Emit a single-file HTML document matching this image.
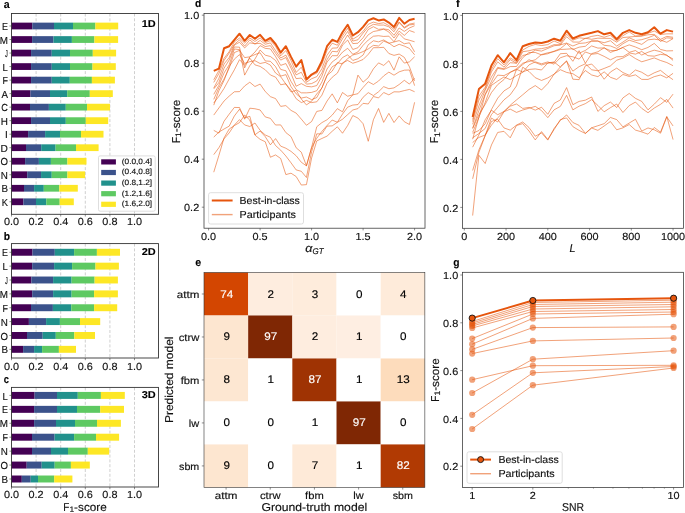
<!DOCTYPE html>
<html><head><meta charset="utf-8"><title>figure</title>
<style>
html,body{margin:0;padding:0;background:#fff;}
body{width:685px;height:513px;overflow:hidden;}
svg{display:block;font-family:"Liberation Sans",sans-serif;text-rendering:geometricPrecision;}
</style></head><body>
<svg width="685" height="513" viewBox="0 0 685 513">
<rect x="0" y="0" width="685" height="513" fill="#fff"/>
<g style="will-change:transform">
<line x1="36.10" y1="13.50" x2="36.10" y2="214.30" stroke="#c4c4c4" stroke-width="0.8" stroke-dasharray="3,1.8"/>
<line x1="60.70" y1="13.50" x2="60.70" y2="214.30" stroke="#c4c4c4" stroke-width="0.8" stroke-dasharray="3,1.8"/>
<line x1="85.30" y1="13.50" x2="85.30" y2="214.30" stroke="#c4c4c4" stroke-width="0.8" stroke-dasharray="3,1.8"/>
<line x1="109.90" y1="13.50" x2="109.90" y2="214.30" stroke="#c4c4c4" stroke-width="0.8" stroke-dasharray="3,1.8"/>
<line x1="134.50" y1="13.50" x2="134.50" y2="214.30" stroke="#c4c4c4" stroke-width="0.8" stroke-dasharray="3,1.8"/>
<rect x="11.50" y="22.63" width="20.80" height="6.76" fill="#440154"/>
<rect x="32.30" y="22.63" width="21.70" height="6.76" fill="#3b528b"/>
<rect x="54.00" y="22.63" width="19.00" height="6.76" fill="#21918c"/>
<rect x="73.00" y="22.63" width="22.40" height="6.76" fill="#5ec962"/>
<rect x="95.40" y="22.63" width="22.80" height="6.76" fill="#fde725"/>
<line x1="9.40" y1="26.01" x2="11.50" y2="26.01" stroke="#444" stroke-width="0.6"/>
<text x="1.90" y="30.11" font-size="10.26" textLength="6.00" lengthAdjust="spacingAndGlyphs" fill="#111" stroke="#111" stroke-width="0.15">E</text>
<rect x="11.50" y="36.15" width="20.60" height="6.76" fill="#440154"/>
<rect x="32.10" y="36.15" width="21.40" height="6.76" fill="#3b528b"/>
<rect x="53.50" y="36.15" width="18.40" height="6.76" fill="#21918c"/>
<rect x="71.90" y="36.15" width="22.50" height="6.76" fill="#5ec962"/>
<rect x="94.40" y="36.15" width="23.70" height="6.76" fill="#fde725"/>
<line x1="9.40" y1="39.53" x2="11.50" y2="39.53" stroke="#444" stroke-width="0.6"/>
<text x="-0.30" y="43.63" font-size="10.26" textLength="8.20" lengthAdjust="spacingAndGlyphs" fill="#111" stroke="#111" stroke-width="0.15">M</text>
<rect x="11.50" y="49.67" width="19.55" height="6.76" fill="#440154"/>
<rect x="31.05" y="49.67" width="20.70" height="6.76" fill="#3b528b"/>
<rect x="51.75" y="49.67" width="18.25" height="6.76" fill="#21918c"/>
<rect x="70.00" y="49.67" width="22.80" height="6.76" fill="#5ec962"/>
<rect x="92.80" y="49.67" width="23.30" height="6.76" fill="#fde725"/>
<line x1="9.40" y1="53.05" x2="11.50" y2="53.05" stroke="#444" stroke-width="0.6"/>
<text x="5.10" y="57.15" font-size="10.26" textLength="2.80" lengthAdjust="spacingAndGlyphs" fill="#111" stroke="#111" stroke-width="0.15">J</text>
<rect x="11.50" y="63.19" width="19.55" height="6.76" fill="#440154"/>
<rect x="31.05" y="63.19" width="20.70" height="6.76" fill="#3b528b"/>
<rect x="51.75" y="63.19" width="18.25" height="6.76" fill="#21918c"/>
<rect x="70.00" y="63.19" width="22.50" height="6.76" fill="#5ec962"/>
<rect x="92.50" y="63.19" width="23.30" height="6.76" fill="#fde725"/>
<line x1="9.40" y1="66.57" x2="11.50" y2="66.57" stroke="#444" stroke-width="0.6"/>
<text x="2.61" y="70.67" font-size="10.26" textLength="5.29" lengthAdjust="spacingAndGlyphs" fill="#111" stroke="#111" stroke-width="0.15">L</text>
<rect x="11.50" y="76.71" width="19.55" height="6.76" fill="#440154"/>
<rect x="31.05" y="76.71" width="20.70" height="6.76" fill="#3b528b"/>
<rect x="51.75" y="76.71" width="18.05" height="6.76" fill="#21918c"/>
<rect x="69.80" y="76.71" width="22.10" height="6.76" fill="#5ec962"/>
<rect x="91.90" y="76.71" width="23.00" height="6.76" fill="#fde725"/>
<line x1="9.40" y1="80.10" x2="11.50" y2="80.10" stroke="#444" stroke-width="0.6"/>
<text x="2.44" y="84.20" font-size="10.26" textLength="5.46" lengthAdjust="spacingAndGlyphs" fill="#111" stroke="#111" stroke-width="0.15">F</text>
<rect x="11.50" y="90.24" width="19.00" height="6.76" fill="#440154"/>
<rect x="30.50" y="90.24" width="19.50" height="6.76" fill="#3b528b"/>
<rect x="50.00" y="90.24" width="17.20" height="6.76" fill="#21918c"/>
<rect x="67.20" y="90.24" width="22.60" height="6.76" fill="#5ec962"/>
<rect x="89.80" y="90.24" width="23.00" height="6.76" fill="#fde725"/>
<line x1="9.40" y1="93.62" x2="11.50" y2="93.62" stroke="#444" stroke-width="0.6"/>
<text x="1.40" y="97.72" font-size="10.26" textLength="6.50" lengthAdjust="spacingAndGlyphs" fill="#111" stroke="#111" stroke-width="0.15">A</text>
<rect x="11.50" y="103.76" width="18.50" height="6.76" fill="#440154"/>
<rect x="30.00" y="103.76" width="18.90" height="6.76" fill="#3b528b"/>
<rect x="48.90" y="103.76" width="16.90" height="6.76" fill="#21918c"/>
<rect x="65.80" y="103.76" width="21.20" height="6.76" fill="#5ec962"/>
<rect x="87.00" y="103.76" width="23.00" height="6.76" fill="#fde725"/>
<line x1="9.40" y1="107.14" x2="11.50" y2="107.14" stroke="#444" stroke-width="0.6"/>
<text x="1.27" y="111.24" font-size="10.26" textLength="6.63" lengthAdjust="spacingAndGlyphs" fill="#111" stroke="#111" stroke-width="0.15">C</text>
<rect x="11.50" y="117.28" width="19.55" height="6.76" fill="#440154"/>
<rect x="31.05" y="117.28" width="18.95" height="6.76" fill="#3b528b"/>
<rect x="50.00" y="117.28" width="15.80" height="6.76" fill="#21918c"/>
<rect x="65.80" y="117.28" width="20.00" height="6.76" fill="#5ec962"/>
<rect x="85.80" y="117.28" width="22.40" height="6.76" fill="#fde725"/>
<line x1="9.40" y1="120.66" x2="11.50" y2="120.66" stroke="#444" stroke-width="0.6"/>
<text x="0.76" y="124.76" font-size="10.26" textLength="7.14" lengthAdjust="spacingAndGlyphs" fill="#111" stroke="#111" stroke-width="0.15">H</text>
<rect x="11.50" y="130.80" width="16.60" height="6.76" fill="#440154"/>
<rect x="28.10" y="130.80" width="17.00" height="6.76" fill="#3b528b"/>
<rect x="45.10" y="130.80" width="14.90" height="6.76" fill="#21918c"/>
<rect x="60.00" y="130.80" width="21.05" height="6.76" fill="#5ec962"/>
<rect x="81.05" y="130.80" width="22.45" height="6.76" fill="#fde725"/>
<line x1="9.40" y1="134.18" x2="11.50" y2="134.18" stroke="#444" stroke-width="0.6"/>
<text x="5.10" y="138.28" font-size="10.26" textLength="2.80" lengthAdjust="spacingAndGlyphs" fill="#111" stroke="#111" stroke-width="0.15">I</text>
<rect x="11.50" y="144.32" width="14.50" height="6.76" fill="#440154"/>
<rect x="26.00" y="144.32" width="15.20" height="6.76" fill="#3b528b"/>
<rect x="41.20" y="144.32" width="14.40" height="6.76" fill="#21918c"/>
<rect x="55.60" y="144.32" width="20.40" height="6.76" fill="#5ec962"/>
<rect x="76.00" y="144.32" width="22.60" height="6.76" fill="#fde725"/>
<line x1="9.40" y1="147.70" x2="11.50" y2="147.70" stroke="#444" stroke-width="0.6"/>
<text x="0.58" y="151.80" font-size="10.26" textLength="7.32" lengthAdjust="spacingAndGlyphs" fill="#111" stroke="#111" stroke-width="0.15">D</text>
<rect x="11.50" y="157.85" width="13.60" height="6.76" fill="#440154"/>
<rect x="25.10" y="157.85" width="13.80" height="6.76" fill="#3b528b"/>
<rect x="38.90" y="157.85" width="12.00" height="6.76" fill="#21918c"/>
<rect x="50.90" y="157.85" width="16.50" height="6.76" fill="#5ec962"/>
<rect x="67.40" y="157.85" width="19.10" height="6.76" fill="#fde725"/>
<line x1="9.40" y1="161.23" x2="11.50" y2="161.23" stroke="#444" stroke-width="0.6"/>
<text x="0.42" y="165.33" font-size="10.26" textLength="7.48" lengthAdjust="spacingAndGlyphs" fill="#111" stroke="#111" stroke-width="0.15">O</text>
<rect x="11.50" y="171.37" width="15.70" height="6.76" fill="#440154"/>
<rect x="27.20" y="171.37" width="13.85" height="6.76" fill="#3b528b"/>
<rect x="41.05" y="171.37" width="10.70" height="6.76" fill="#21918c"/>
<rect x="51.75" y="171.37" width="15.65" height="6.76" fill="#5ec962"/>
<rect x="67.40" y="171.37" width="17.70" height="6.76" fill="#fde725"/>
<line x1="9.40" y1="174.75" x2="11.50" y2="174.75" stroke="#444" stroke-width="0.6"/>
<text x="0.79" y="178.85" font-size="10.26" textLength="7.11" lengthAdjust="spacingAndGlyphs" fill="#111" stroke="#111" stroke-width="0.15">N</text>
<rect x="11.50" y="184.89" width="12.50" height="6.76" fill="#440154"/>
<rect x="24.00" y="184.89" width="10.10" height="6.76" fill="#3b528b"/>
<rect x="34.10" y="184.89" width="9.70" height="6.76" fill="#21918c"/>
<rect x="43.80" y="184.89" width="15.50" height="6.76" fill="#5ec962"/>
<rect x="59.30" y="184.89" width="18.50" height="6.76" fill="#fde725"/>
<line x1="9.40" y1="188.27" x2="11.50" y2="188.27" stroke="#444" stroke-width="0.6"/>
<text x="1.38" y="192.37" font-size="10.26" textLength="6.52" lengthAdjust="spacingAndGlyphs" fill="#111" stroke="#111" stroke-width="0.15">B</text>
<rect x="11.50" y="198.41" width="11.90" height="6.76" fill="#440154"/>
<rect x="23.40" y="198.41" width="12.60" height="6.76" fill="#3b528b"/>
<rect x="36.00" y="198.41" width="10.30" height="6.76" fill="#21918c"/>
<rect x="46.30" y="198.41" width="13.40" height="6.76" fill="#5ec962"/>
<rect x="59.70" y="198.41" width="14.10" height="6.76" fill="#fde725"/>
<line x1="9.40" y1="201.79" x2="11.50" y2="201.79" stroke="#444" stroke-width="0.6"/>
<text x="1.67" y="205.89" font-size="10.26" textLength="6.23" lengthAdjust="spacingAndGlyphs" fill="#111" stroke="#111" stroke-width="0.15">K</text>
<line x1="11.50" y1="214.30" x2="11.50" y2="216.50" stroke="#444" stroke-width="0.6"/>
<text x="3.95" y="225.00" font-size="10.26" textLength="15.11" lengthAdjust="spacingAndGlyphs" fill="#111" stroke="#111" stroke-width="0.15">0.0</text>
<line x1="36.10" y1="214.30" x2="36.10" y2="216.50" stroke="#444" stroke-width="0.6"/>
<text x="28.55" y="225.00" font-size="10.26" textLength="15.11" lengthAdjust="spacingAndGlyphs" fill="#111" stroke="#111" stroke-width="0.15">0.2</text>
<line x1="60.70" y1="214.30" x2="60.70" y2="216.50" stroke="#444" stroke-width="0.6"/>
<text x="53.15" y="225.00" font-size="10.26" textLength="15.11" lengthAdjust="spacingAndGlyphs" fill="#111" stroke="#111" stroke-width="0.15">0.4</text>
<line x1="85.30" y1="214.30" x2="85.30" y2="216.50" stroke="#444" stroke-width="0.6"/>
<text x="77.75" y="225.00" font-size="10.26" textLength="15.11" lengthAdjust="spacingAndGlyphs" fill="#111" stroke="#111" stroke-width="0.15">0.6</text>
<line x1="109.90" y1="214.30" x2="109.90" y2="216.50" stroke="#444" stroke-width="0.6"/>
<text x="102.35" y="225.00" font-size="10.26" textLength="15.11" lengthAdjust="spacingAndGlyphs" fill="#111" stroke="#111" stroke-width="0.15">0.8</text>
<line x1="134.50" y1="214.30" x2="134.50" y2="216.50" stroke="#444" stroke-width="0.6"/>
<text x="126.95" y="225.00" font-size="10.26" textLength="15.11" lengthAdjust="spacingAndGlyphs" fill="#111" stroke="#111" stroke-width="0.15">1.0</text>
<rect x="11.50" y="13.50" width="147.00" height="200.80" fill="none" stroke="#333" stroke-width="0.9"/>
<text x="141.76" y="26.80" font-size="9.94" textLength="14.04" lengthAdjust="spacingAndGlyphs" fill="#000" stroke="#000" stroke-width="0.1" font-weight="bold">1D</text>
<text x="3.70" y="7.80" font-size="11.02" textLength="5.92" lengthAdjust="spacingAndGlyphs" fill="#000" stroke="#000" stroke-width="0.1" font-weight="bold">a</text>
<rect x="98.5" y="155.9" width="56.7" height="55.3" rx="1.5" fill="#fff" fill-opacity="0.9" stroke="#d6d6d6" stroke-width="0.8"/>
<rect x="101.20" y="159.30" width="14.70" height="5.20" fill="#440154"/>
<text x="121.80" y="163.80" font-size="7.67" textLength="30.30" lengthAdjust="spacingAndGlyphs" fill="#111" stroke="#111" stroke-width="0.15">(0.0,0.4]</text>
<rect x="101.20" y="169.90" width="14.70" height="5.20" fill="#3b528b"/>
<text x="121.80" y="174.40" font-size="7.67" textLength="30.30" lengthAdjust="spacingAndGlyphs" fill="#111" stroke="#111" stroke-width="0.15">(0.4,0.8]</text>
<rect x="101.20" y="180.50" width="14.70" height="5.20" fill="#21918c"/>
<text x="121.80" y="185.00" font-size="7.67" textLength="30.30" lengthAdjust="spacingAndGlyphs" fill="#111" stroke="#111" stroke-width="0.15">(0.8,1.2]</text>
<rect x="101.20" y="191.10" width="14.70" height="5.20" fill="#5ec962"/>
<text x="121.80" y="195.60" font-size="7.67" textLength="30.30" lengthAdjust="spacingAndGlyphs" fill="#111" stroke="#111" stroke-width="0.15">(1.2,1.6]</text>
<rect x="101.20" y="201.70" width="14.70" height="5.20" fill="#fde725"/>
<text x="121.80" y="206.20" font-size="7.67" textLength="30.30" lengthAdjust="spacingAndGlyphs" fill="#111" stroke="#111" stroke-width="0.15">(1.6,2.0]</text>
<line x1="36.10" y1="243.60" x2="36.10" y2="358.00" stroke="#c4c4c4" stroke-width="0.8" stroke-dasharray="3,1.8"/>
<line x1="60.70" y1="243.60" x2="60.70" y2="358.00" stroke="#c4c4c4" stroke-width="0.8" stroke-dasharray="3,1.8"/>
<line x1="85.30" y1="243.60" x2="85.30" y2="358.00" stroke="#c4c4c4" stroke-width="0.8" stroke-dasharray="3,1.8"/>
<line x1="109.90" y1="243.60" x2="109.90" y2="358.00" stroke="#c4c4c4" stroke-width="0.8" stroke-dasharray="3,1.8"/>
<line x1="134.50" y1="243.60" x2="134.50" y2="358.00" stroke="#c4c4c4" stroke-width="0.8" stroke-dasharray="3,1.8"/>
<rect x="11.50" y="248.80" width="21.00" height="6.93" fill="#440154"/>
<rect x="32.50" y="248.80" width="22.30" height="6.93" fill="#3b528b"/>
<rect x="54.80" y="248.80" width="19.30" height="6.93" fill="#21918c"/>
<rect x="74.10" y="248.80" width="22.80" height="6.93" fill="#5ec962"/>
<rect x="96.90" y="248.80" width="23.10" height="6.93" fill="#fde725"/>
<line x1="9.40" y1="252.27" x2="11.50" y2="252.27" stroke="#444" stroke-width="0.6"/>
<text x="1.90" y="256.37" font-size="10.26" textLength="6.00" lengthAdjust="spacingAndGlyphs" fill="#111" stroke="#111" stroke-width="0.15">E</text>
<rect x="11.50" y="262.67" width="20.70" height="6.93" fill="#440154"/>
<rect x="32.20" y="262.67" width="21.90" height="6.93" fill="#3b528b"/>
<rect x="54.10" y="262.67" width="18.00" height="6.93" fill="#21918c"/>
<rect x="72.10" y="262.67" width="23.40" height="6.93" fill="#5ec962"/>
<rect x="95.50" y="262.67" width="23.40" height="6.93" fill="#fde725"/>
<line x1="9.40" y1="266.13" x2="11.50" y2="266.13" stroke="#444" stroke-width="0.6"/>
<text x="2.61" y="270.23" font-size="10.26" textLength="5.29" lengthAdjust="spacingAndGlyphs" fill="#111" stroke="#111" stroke-width="0.15">L</text>
<rect x="11.50" y="276.53" width="19.90" height="6.93" fill="#440154"/>
<rect x="31.40" y="276.53" width="21.70" height="6.93" fill="#3b528b"/>
<rect x="53.10" y="276.53" width="18.50" height="6.93" fill="#21918c"/>
<rect x="71.60" y="276.53" width="23.00" height="6.93" fill="#5ec962"/>
<rect x="94.60" y="276.53" width="23.30" height="6.93" fill="#fde725"/>
<line x1="9.40" y1="280.00" x2="11.50" y2="280.00" stroke="#444" stroke-width="0.6"/>
<text x="5.10" y="284.10" font-size="10.26" textLength="2.80" lengthAdjust="spacingAndGlyphs" fill="#111" stroke="#111" stroke-width="0.15">J</text>
<rect x="11.50" y="290.40" width="20.70" height="6.93" fill="#440154"/>
<rect x="32.20" y="290.40" width="20.90" height="6.93" fill="#3b528b"/>
<rect x="53.10" y="290.40" width="18.50" height="6.93" fill="#21918c"/>
<rect x="71.60" y="290.40" width="22.50" height="6.93" fill="#5ec962"/>
<rect x="94.10" y="290.40" width="23.80" height="6.93" fill="#fde725"/>
<line x1="9.40" y1="293.87" x2="11.50" y2="293.87" stroke="#444" stroke-width="0.6"/>
<text x="-0.30" y="297.97" font-size="10.26" textLength="8.20" lengthAdjust="spacingAndGlyphs" fill="#111" stroke="#111" stroke-width="0.15">M</text>
<rect x="11.50" y="304.27" width="19.50" height="6.93" fill="#440154"/>
<rect x="31.00" y="304.27" width="21.90" height="6.93" fill="#3b528b"/>
<rect x="52.90" y="304.27" width="18.40" height="6.93" fill="#21918c"/>
<rect x="71.30" y="304.27" width="22.80" height="6.93" fill="#5ec962"/>
<rect x="94.10" y="304.27" width="23.10" height="6.93" fill="#fde725"/>
<line x1="9.40" y1="307.73" x2="11.50" y2="307.73" stroke="#444" stroke-width="0.6"/>
<text x="2.44" y="311.83" font-size="10.26" textLength="5.46" lengthAdjust="spacingAndGlyphs" fill="#111" stroke="#111" stroke-width="0.15">F</text>
<rect x="11.50" y="318.13" width="17.40" height="6.93" fill="#440154"/>
<rect x="28.90" y="318.13" width="17.20" height="6.93" fill="#3b528b"/>
<rect x="46.10" y="318.13" width="13.80" height="6.93" fill="#21918c"/>
<rect x="59.90" y="318.13" width="20.10" height="6.93" fill="#5ec962"/>
<rect x="80.00" y="318.13" width="20.20" height="6.93" fill="#fde725"/>
<line x1="9.40" y1="321.60" x2="11.50" y2="321.60" stroke="#444" stroke-width="0.6"/>
<text x="0.79" y="325.70" font-size="10.26" textLength="7.11" lengthAdjust="spacingAndGlyphs" fill="#111" stroke="#111" stroke-width="0.15">N</text>
<rect x="11.50" y="332.00" width="15.50" height="6.93" fill="#440154"/>
<rect x="27.00" y="332.00" width="15.70" height="6.93" fill="#3b528b"/>
<rect x="42.70" y="332.00" width="13.10" height="6.93" fill="#21918c"/>
<rect x="55.80" y="332.00" width="18.50" height="6.93" fill="#5ec962"/>
<rect x="74.30" y="332.00" width="20.70" height="6.93" fill="#fde725"/>
<line x1="9.40" y1="335.47" x2="11.50" y2="335.47" stroke="#444" stroke-width="0.6"/>
<text x="0.42" y="339.57" font-size="10.26" textLength="7.48" lengthAdjust="spacingAndGlyphs" fill="#111" stroke="#111" stroke-width="0.15">O</text>
<rect x="11.50" y="345.87" width="11.60" height="6.93" fill="#440154"/>
<rect x="23.10" y="345.87" width="11.00" height="6.93" fill="#3b528b"/>
<rect x="34.10" y="345.87" width="8.00" height="6.93" fill="#21918c"/>
<rect x="42.10" y="345.87" width="16.80" height="6.93" fill="#5ec962"/>
<rect x="58.90" y="345.87" width="17.10" height="6.93" fill="#fde725"/>
<line x1="9.40" y1="349.33" x2="11.50" y2="349.33" stroke="#444" stroke-width="0.6"/>
<text x="1.38" y="353.43" font-size="10.26" textLength="6.52" lengthAdjust="spacingAndGlyphs" fill="#111" stroke="#111" stroke-width="0.15">B</text>
<line x1="11.50" y1="358.00" x2="11.50" y2="360.20" stroke="#444" stroke-width="0.6"/>
<text x="3.95" y="369.60" font-size="10.26" textLength="15.11" lengthAdjust="spacingAndGlyphs" fill="#111" stroke="#111" stroke-width="0.15">0.0</text>
<line x1="36.10" y1="358.00" x2="36.10" y2="360.20" stroke="#444" stroke-width="0.6"/>
<text x="28.55" y="369.60" font-size="10.26" textLength="15.11" lengthAdjust="spacingAndGlyphs" fill="#111" stroke="#111" stroke-width="0.15">0.2</text>
<line x1="60.70" y1="358.00" x2="60.70" y2="360.20" stroke="#444" stroke-width="0.6"/>
<text x="53.15" y="369.60" font-size="10.26" textLength="15.11" lengthAdjust="spacingAndGlyphs" fill="#111" stroke="#111" stroke-width="0.15">0.4</text>
<line x1="85.30" y1="358.00" x2="85.30" y2="360.20" stroke="#444" stroke-width="0.6"/>
<text x="77.75" y="369.60" font-size="10.26" textLength="15.11" lengthAdjust="spacingAndGlyphs" fill="#111" stroke="#111" stroke-width="0.15">0.6</text>
<line x1="109.90" y1="358.00" x2="109.90" y2="360.20" stroke="#444" stroke-width="0.6"/>
<text x="102.35" y="369.60" font-size="10.26" textLength="15.11" lengthAdjust="spacingAndGlyphs" fill="#111" stroke="#111" stroke-width="0.15">0.8</text>
<line x1="134.50" y1="358.00" x2="134.50" y2="360.20" stroke="#444" stroke-width="0.6"/>
<text x="126.95" y="369.60" font-size="10.26" textLength="15.11" lengthAdjust="spacingAndGlyphs" fill="#111" stroke="#111" stroke-width="0.15">1.0</text>
<rect x="11.50" y="243.60" width="147.00" height="114.40" fill="none" stroke="#333" stroke-width="0.9"/>
<text x="141.76" y="254.50" font-size="9.94" textLength="14.04" lengthAdjust="spacingAndGlyphs" fill="#000" stroke="#000" stroke-width="0.1" font-weight="bold">2D</text>
<text x="3.70" y="239.60" font-size="11.02" textLength="6.28" lengthAdjust="spacingAndGlyphs" fill="#000" stroke="#000" stroke-width="0.1" font-weight="bold">b</text>
<line x1="36.10" y1="387.40" x2="36.10" y2="487.00" stroke="#c4c4c4" stroke-width="0.8" stroke-dasharray="3,1.8"/>
<line x1="60.70" y1="387.40" x2="60.70" y2="487.00" stroke="#c4c4c4" stroke-width="0.8" stroke-dasharray="3,1.8"/>
<line x1="85.30" y1="387.40" x2="85.30" y2="487.00" stroke="#c4c4c4" stroke-width="0.8" stroke-dasharray="3,1.8"/>
<line x1="109.90" y1="387.40" x2="109.90" y2="487.00" stroke="#c4c4c4" stroke-width="0.8" stroke-dasharray="3,1.8"/>
<line x1="134.50" y1="387.40" x2="134.50" y2="487.00" stroke="#c4c4c4" stroke-width="0.8" stroke-dasharray="3,1.8"/>
<rect x="11.50" y="391.93" width="23.10" height="6.97" fill="#440154"/>
<rect x="34.60" y="391.93" width="22.40" height="6.97" fill="#3b528b"/>
<rect x="57.00" y="391.93" width="20.80" height="6.97" fill="#21918c"/>
<rect x="77.80" y="391.93" width="23.10" height="6.97" fill="#5ec962"/>
<rect x="100.90" y="391.93" width="23.90" height="6.97" fill="#fde725"/>
<line x1="9.40" y1="395.41" x2="11.50" y2="395.41" stroke="#444" stroke-width="0.6"/>
<text x="2.61" y="399.51" font-size="10.26" textLength="5.29" lengthAdjust="spacingAndGlyphs" fill="#111" stroke="#111" stroke-width="0.15">L</text>
<rect x="11.50" y="405.86" width="22.60" height="6.97" fill="#440154"/>
<rect x="34.10" y="405.86" width="22.90" height="6.97" fill="#3b528b"/>
<rect x="57.00" y="405.86" width="20.00" height="6.97" fill="#21918c"/>
<rect x="77.00" y="405.86" width="23.20" height="6.97" fill="#5ec962"/>
<rect x="100.20" y="405.86" width="23.80" height="6.97" fill="#fde725"/>
<line x1="9.40" y1="409.34" x2="11.50" y2="409.34" stroke="#444" stroke-width="0.6"/>
<text x="1.90" y="413.44" font-size="10.26" textLength="6.00" lengthAdjust="spacingAndGlyphs" fill="#111" stroke="#111" stroke-width="0.15">E</text>
<rect x="11.50" y="419.79" width="22.60" height="6.97" fill="#440154"/>
<rect x="34.10" y="419.79" width="21.90" height="6.97" fill="#3b528b"/>
<rect x="56.00" y="419.79" width="19.00" height="6.97" fill="#21918c"/>
<rect x="75.00" y="419.79" width="22.00" height="6.97" fill="#5ec962"/>
<rect x="97.00" y="419.79" width="23.90" height="6.97" fill="#fde725"/>
<line x1="9.40" y1="423.27" x2="11.50" y2="423.27" stroke="#444" stroke-width="0.6"/>
<text x="-0.30" y="427.37" font-size="10.26" textLength="8.20" lengthAdjust="spacingAndGlyphs" fill="#111" stroke="#111" stroke-width="0.15">M</text>
<rect x="11.50" y="433.72" width="20.50" height="6.97" fill="#440154"/>
<rect x="32.00" y="433.72" width="22.60" height="6.97" fill="#3b528b"/>
<rect x="54.60" y="433.72" width="19.50" height="6.97" fill="#21918c"/>
<rect x="74.10" y="433.72" width="21.90" height="6.97" fill="#5ec962"/>
<rect x="96.00" y="433.72" width="23.10" height="6.97" fill="#fde725"/>
<line x1="9.40" y1="437.20" x2="11.50" y2="437.20" stroke="#444" stroke-width="0.6"/>
<text x="2.44" y="441.30" font-size="10.26" textLength="5.46" lengthAdjust="spacingAndGlyphs" fill="#111" stroke="#111" stroke-width="0.15">F</text>
<rect x="11.50" y="447.65" width="20.50" height="6.97" fill="#440154"/>
<rect x="32.00" y="447.65" width="19.00" height="6.97" fill="#3b528b"/>
<rect x="51.00" y="447.65" width="17.00" height="6.97" fill="#21918c"/>
<rect x="68.00" y="447.65" width="19.80" height="6.97" fill="#5ec962"/>
<rect x="87.80" y="447.65" width="21.40" height="6.97" fill="#fde725"/>
<line x1="9.40" y1="451.13" x2="11.50" y2="451.13" stroke="#444" stroke-width="0.6"/>
<text x="0.79" y="455.23" font-size="10.26" textLength="7.11" lengthAdjust="spacingAndGlyphs" fill="#111" stroke="#111" stroke-width="0.15">N</text>
<rect x="11.50" y="461.58" width="15.20" height="6.97" fill="#440154"/>
<rect x="26.70" y="461.58" width="15.00" height="6.97" fill="#3b528b"/>
<rect x="41.70" y="461.58" width="13.00" height="6.97" fill="#21918c"/>
<rect x="54.70" y="461.58" width="16.20" height="6.97" fill="#5ec962"/>
<rect x="70.90" y="461.58" width="18.90" height="6.97" fill="#fde725"/>
<line x1="9.40" y1="465.06" x2="11.50" y2="465.06" stroke="#444" stroke-width="0.6"/>
<text x="0.42" y="469.16" font-size="10.26" textLength="7.48" lengthAdjust="spacingAndGlyphs" fill="#111" stroke="#111" stroke-width="0.15">O</text>
<rect x="11.50" y="475.51" width="10.30" height="6.97" fill="#440154"/>
<rect x="21.80" y="475.51" width="8.90" height="6.97" fill="#3b528b"/>
<rect x="30.70" y="475.51" width="7.30" height="6.97" fill="#21918c"/>
<rect x="38.00" y="475.51" width="16.20" height="6.97" fill="#5ec962"/>
<rect x="54.20" y="475.51" width="18.20" height="6.97" fill="#fde725"/>
<line x1="9.40" y1="478.99" x2="11.50" y2="478.99" stroke="#444" stroke-width="0.6"/>
<text x="1.38" y="483.09" font-size="10.26" textLength="6.52" lengthAdjust="spacingAndGlyphs" fill="#111" stroke="#111" stroke-width="0.15">B</text>
<line x1="11.50" y1="487.00" x2="11.50" y2="489.20" stroke="#444" stroke-width="0.6"/>
<text x="3.95" y="498.30" font-size="10.26" textLength="15.11" lengthAdjust="spacingAndGlyphs" fill="#111" stroke="#111" stroke-width="0.15">0.0</text>
<line x1="36.10" y1="487.00" x2="36.10" y2="489.20" stroke="#444" stroke-width="0.6"/>
<text x="28.55" y="498.30" font-size="10.26" textLength="15.11" lengthAdjust="spacingAndGlyphs" fill="#111" stroke="#111" stroke-width="0.15">0.2</text>
<line x1="60.70" y1="487.00" x2="60.70" y2="489.20" stroke="#444" stroke-width="0.6"/>
<text x="53.15" y="498.30" font-size="10.26" textLength="15.11" lengthAdjust="spacingAndGlyphs" fill="#111" stroke="#111" stroke-width="0.15">0.4</text>
<line x1="85.30" y1="487.00" x2="85.30" y2="489.20" stroke="#444" stroke-width="0.6"/>
<text x="77.75" y="498.30" font-size="10.26" textLength="15.11" lengthAdjust="spacingAndGlyphs" fill="#111" stroke="#111" stroke-width="0.15">0.6</text>
<line x1="109.90" y1="487.00" x2="109.90" y2="489.20" stroke="#444" stroke-width="0.6"/>
<text x="102.35" y="498.30" font-size="10.26" textLength="15.11" lengthAdjust="spacingAndGlyphs" fill="#111" stroke="#111" stroke-width="0.15">0.8</text>
<line x1="134.50" y1="487.00" x2="134.50" y2="489.20" stroke="#444" stroke-width="0.6"/>
<text x="126.95" y="498.30" font-size="10.26" textLength="15.11" lengthAdjust="spacingAndGlyphs" fill="#111" stroke="#111" stroke-width="0.15">1.0</text>
<rect x="11.50" y="387.40" width="147.00" height="99.60" fill="none" stroke="#333" stroke-width="0.9"/>
<text x="141.76" y="397.60" font-size="9.94" textLength="14.04" lengthAdjust="spacingAndGlyphs" fill="#000" stroke="#000" stroke-width="0.1" font-weight="bold">3D</text>
<text x="3.70" y="383.40" font-size="11.02" textLength="5.20" lengthAdjust="spacingAndGlyphs" fill="#000" stroke="#000" stroke-width="0.1" font-weight="bold">c</text>
<text x="63.32" y="510.80" font-size="11.45" textLength="6.10" lengthAdjust="spacingAndGlyphs" fill="#111" stroke="#111" stroke-width="0.15">F</text>
<text x="69.42" y="512.40" font-size="8.01" textLength="4.72" lengthAdjust="spacingAndGlyphs" fill="#111" stroke="#111" stroke-width="0.15">1</text>
<text x="74.14" y="510.80" font-size="11.45" textLength="32.54" lengthAdjust="spacingAndGlyphs" fill="#111" stroke="#111" stroke-width="0.15">-score</text>
<polyline points="213.75,79.77 218.90,70.49 224.05,58.28 229.20,51.57 234.35,41.82 239.50,38.06 244.65,43.08 249.80,38.01 254.95,41.45 260.10,37.93 265.25,42.63 270.40,40.58 275.55,46.26 280.70,55.85 285.85,50.54 291.00,60.65 296.15,72.35 301.30,67.28 306.45,78.34 311.60,75.38 316.75,73.16 321.90,64.35 327.05,50.39 332.20,43.24 337.35,45.21 342.50,35.82 347.65,28.25 352.80,39.21 357.95,36.07 363.10,31.43 368.25,24.25 373.40,22.09 378.55,23.60 383.70,22.73 388.85,25.55 394.00,29.32 399.15,21.94 404.30,27.33 409.45,24.08 414.60,23.06" fill="none" stroke="#e6550d" stroke-width="1" stroke-linejoin="round" stroke-opacity="0.55"/>
<polyline points="213.75,82.38 218.90,73.50 224.05,60.45 229.20,53.11 234.35,44.40 239.50,39.92 244.65,46.13 249.80,39.90 254.95,44.12 260.10,40.39 265.25,44.28 270.40,42.90 275.55,50.61 280.70,58.03 285.85,55.08 291.00,65.14 296.15,74.87 301.30,72.25 306.45,82.30 311.60,78.73 316.75,76.68 321.90,68.68 327.05,55.26 332.20,48.15 337.35,47.92 342.50,38.72 347.65,31.43 352.80,41.06 357.95,39.79 363.10,33.15 368.25,27.18 373.40,24.32 378.55,25.12 383.70,25.05 388.85,26.82 394.00,31.77 399.15,22.55 404.30,28.21 409.45,24.95 414.60,24.26" fill="none" stroke="#e6550d" stroke-width="1" stroke-linejoin="round" stroke-opacity="0.55"/>
<polyline points="213.75,88.00 218.90,78.34 224.05,63.97 229.20,57.49 234.35,45.01 239.50,42.28 244.65,47.93 249.80,42.86 254.95,43.74 260.10,43.33 265.25,46.54 270.40,45.66 275.55,53.31 280.70,60.12 285.85,57.52 291.00,68.14 296.15,78.62 301.30,78.06 306.45,84.15 311.60,83.58 316.75,80.99 321.90,72.76 327.05,59.56 332.20,51.32 337.35,51.82 342.50,43.37 347.65,35.03 352.80,43.59 357.95,43.21 363.10,37.71 368.25,29.49 373.40,26.71 378.55,29.36 383.70,28.91 388.85,29.82 394.00,35.27 399.15,27.96 404.30,31.36 409.45,27.94 414.60,25.72" fill="none" stroke="#e6550d" stroke-width="1" stroke-linejoin="round" stroke-opacity="0.55"/>
<polyline points="213.75,88.91 218.90,82.55 224.05,68.19 229.20,60.01 234.35,46.96 239.50,47.19 244.65,67.86 249.80,56.87 254.95,52.10 260.10,45.58 265.25,48.37 270.40,48.90 275.55,56.47 280.70,65.37 285.85,63.57 291.00,73.51 296.15,86.23 301.30,83.62 306.45,86.32 311.60,86.87 316.75,85.57 321.90,76.15 327.05,62.14 332.20,55.68 337.35,55.73 342.50,45.09 347.65,40.03 352.80,49.50 357.95,47.73 363.10,41.34 368.25,34.78 373.40,31.52 378.55,30.55 383.70,29.15 388.85,31.97 394.00,38.05 399.15,31.10 404.30,35.42 409.45,30.52 414.60,32.39" fill="none" stroke="#e6550d" stroke-width="1" stroke-linejoin="round" stroke-opacity="0.55"/>
<polyline points="213.75,94.38 218.90,85.29 224.05,72.94 229.20,64.82 234.35,48.97 239.50,49.66 244.65,75.12 249.80,65.69 254.95,59.06 260.10,50.02 265.25,55.17 270.40,56.50 275.55,60.44 280.70,69.41 285.85,70.74 291.00,81.40 296.15,89.58 301.30,92.83 306.45,92.85 311.60,92.42 316.75,90.74 321.90,82.06 327.05,68.96 332.20,61.91 337.35,58.23 342.50,52.11 347.65,48.31 352.80,54.29 357.95,51.94 363.10,45.25 368.25,40.02 373.40,36.22 378.55,35.72 383.70,36.45 388.85,36.17 394.00,41.73 399.15,33.55 404.30,38.88 409.45,40.24 414.60,41.77" fill="none" stroke="#e6550d" stroke-width="1" stroke-linejoin="round" stroke-opacity="0.55"/>
<polyline points="213.75,99.38 218.90,87.65 224.05,78.95 229.20,68.17 234.35,52.58 239.50,50.36 244.65,57.62 249.80,56.84 254.95,54.55 260.10,52.73 265.25,60.94 270.40,61.30 275.55,66.63 280.70,76.14 285.85,74.65 291.00,86.60 296.15,93.83 301.30,98.06 306.45,97.02 311.60,99.65 316.75,97.59 321.90,87.82 327.05,75.32 332.20,66.76 337.35,63.79 342.50,57.55 347.65,54.75 352.80,60.46 357.95,58.71 363.10,55.04 368.25,44.72 373.40,40.78 378.55,41.88 383.70,39.93 388.85,43.05 394.00,46.74 399.15,44.27 404.30,46.08 409.45,48.44 414.60,54.79" fill="none" stroke="#e6550d" stroke-width="1" stroke-linejoin="round" stroke-opacity="0.55"/>
<polyline points="213.75,105.13 218.90,90.77 224.05,80.41 229.20,66.53 234.35,59.10 239.50,54.59 244.65,63.47 249.80,61.66 254.95,60.70 260.10,63.53 265.25,62.40 270.40,65.08 275.55,73.00 280.70,76.75 285.85,84.10 291.00,90.12 296.15,98.71 301.30,102.56 306.45,100.40 311.60,102.58 316.75,101.82 321.90,95.19 327.05,83.26 332.20,77.25 337.35,73.15 342.50,62.84 347.65,60.46 352.80,63.25 357.95,61.61 363.10,59.49 368.25,54.32 373.40,47.71 378.55,47.66 383.70,47.31 388.85,53.50 394.00,55.36 399.15,54.05 404.30,57.34 409.45,66.84 414.60,80.84" fill="none" stroke="#e6550d" stroke-width="1" stroke-linejoin="round" stroke-opacity="0.55"/>
<polyline points="213.75,102.97 218.90,96.28 224.05,88.42 229.20,78.93 234.35,69.82 239.50,59.66 244.65,65.32 249.80,58.14 254.95,64.85 260.10,66.42 265.25,69.77 270.40,74.99 275.55,77.10 280.70,84.78 285.85,83.79 291.00,91.93 296.15,90.31 301.30,99.05 306.45,104.91 311.60,101.28 316.75,93.93 321.90,88.00 327.05,75.38 332.20,71.09 337.35,62.56 342.50,64.00 347.65,58.54 352.80,54.98 357.95,53.66 363.10,51.57 368.25,48.91 373.40,45.37 378.55,46.01 383.70,41.08 388.85,43.23 394.00,42.00 399.15,40.58 404.30,43.76 409.45,42.83 414.60,51.88" fill="none" stroke="#e6550d" stroke-width="1" stroke-linejoin="round" stroke-opacity="0.55"/>
<polyline points="213.75,115.07 218.90,107.96 224.05,101.03 229.20,96.12 234.35,91.79 239.50,91.61 244.65,85.96 249.80,82.22 254.95,86.52 260.10,84.10 265.25,91.56 270.40,96.64 275.55,98.59 280.70,106.40 285.85,105.59 291.00,110.38 296.15,113.11 301.30,119.12 306.45,125.28 311.60,121.56 316.75,111.42 321.90,110.40 327.05,101.02 332.20,93.85 337.35,102.85 342.50,92.50 347.65,96.24 352.80,94.85 357.95,75.14 363.10,82.18 368.25,77.65 373.40,68.84 378.55,62.89 383.70,65.43 388.85,60.77 394.00,70.16 399.15,56.83 404.30,63.09 409.45,61.87 414.60,56.74" fill="none" stroke="#e6550d" stroke-width="1" stroke-linejoin="round" stroke-opacity="0.55"/>
<polyline points="213.75,130.39 218.90,133.11 224.05,121.23 229.20,114.15 234.35,107.43 239.50,107.55 244.65,119.18 249.80,108.20 254.95,108.75 260.10,109.98 265.25,116.91 270.40,118.38 275.55,125.01 280.70,124.90 285.85,132.58 291.00,136.58 296.15,147.77 301.30,152.20 306.45,165.77 311.60,147.46 316.75,126.76 321.90,122.62 327.05,119.74 332.20,115.14 337.35,108.63 342.50,111.83 347.65,100.72 352.80,94.85 357.95,93.70 363.10,87.44 368.25,81.72 373.40,84.49 378.55,81.06 383.70,75.89 388.85,72.14 394.00,75.19 399.15,71.85 404.30,70.18 409.45,69.97 414.60,85.64" fill="none" stroke="#e6550d" stroke-width="1" stroke-linejoin="round" stroke-opacity="0.55"/>
<polyline points="213.75,137.10 218.90,132.10 224.05,129.01 229.20,126.14 234.35,115.99 239.50,109.21 244.65,117.89 249.80,116.34 254.95,134.78 260.10,131.05 265.25,136.67 270.40,144.83 275.55,138.60 280.70,146.14 285.85,148.22 291.00,151.37 296.15,155.74 301.30,162.26 306.45,165.88 311.60,147.62 316.75,138.29 321.90,131.38 327.05,125.47 332.20,120.04 337.35,122.26 342.50,114.08 347.65,107.15 352.80,105.05 357.95,104.58 363.10,97.26 368.25,92.62 373.40,95.58 378.55,91.78 383.70,86.65 388.85,88.71 394.00,87.92 399.15,84.50 404.30,80.33 409.45,84.08 414.60,78.23" fill="none" stroke="#e6550d" stroke-width="1" stroke-linejoin="round" stroke-opacity="0.55"/>
<polyline points="213.75,172.19 218.90,155.39 224.05,137.91 229.20,129.03 234.35,125.55 239.50,122.63 244.65,115.07 249.80,120.09 254.95,135.08 260.10,139.32 265.25,141.74 270.40,157.24 275.55,154.93 280.70,158.51 285.85,174.58 291.00,173.19 296.15,176.52 301.30,185.04 306.45,184.64 311.60,157.99 316.75,140.93 321.90,138.47 327.05,136.13 332.20,131.25 337.35,126.81 342.50,133.24 347.65,125.50 352.80,115.56 357.95,118.06 363.10,123.72 368.25,141.28 373.40,119.74 378.55,108.49 383.70,122.38 388.85,113.39 394.00,122.54 399.15,115.89 404.30,121.72 409.45,124.51 414.60,102.31" fill="none" stroke="#e6550d" stroke-width="1" stroke-linejoin="round" stroke-opacity="0.55"/>
<polyline points="213.75,154.64 218.90,147.70 224.05,138.79 229.20,132.88 234.35,125.03 239.50,119.61 244.65,124.96 249.80,126.52 254.95,123.00 260.10,130.32 265.25,134.94 270.40,137.26 275.55,145.54 280.70,150.17 285.85,155.98 291.00,162.79 296.15,169.92 301.30,171.30 306.45,177.49 311.60,151.80 316.75,133.84 321.90,133.95 327.05,126.13 332.20,125.86 337.35,122.34 342.50,119.24 347.65,114.63 352.80,109.99 357.95,108.62 363.10,103.33 368.25,103.98 373.40,96.49 378.55,97.91 383.70,92.52 388.85,94.84 394.00,91.80 399.15,91.92 404.30,90.59 409.45,89.43 414.60,91.72" fill="none" stroke="#e6550d" stroke-width="1" stroke-linejoin="round" stroke-opacity="0.55"/>
<polyline points="213.75,70.90 218.90,68.70 224.05,48.30 229.20,46.20 234.35,39.80 239.50,33.70 244.65,40.80 249.80,35.00 254.95,38.70 260.10,34.80 265.25,40.80 270.40,38.00 275.55,44.00 280.70,52.60 285.85,46.20 291.00,56.90 296.15,66.60 301.30,60.10 306.45,79.50 311.60,74.50 316.75,71.50 321.90,61.20 327.05,46.20 332.20,39.80 337.35,41.90 342.50,32.20 347.65,24.70 352.80,35.50 357.95,32.20 363.10,26.90 368.25,20.40 373.40,18.30 378.55,20.40 383.70,19.40 388.85,22.60 394.00,26.90 399.15,17.90 404.30,23.70 409.45,20.00 414.60,18.70" fill="none" stroke="#e6550d" stroke-width="2" stroke-linejoin="round"/>
<rect x="204.00" y="13.50" width="221.00" height="214.70" fill="none" stroke="#333" stroke-width="0.75"/>
<line x1="201.80" y1="207.20" x2="204.00" y2="207.20" stroke="#444" stroke-width="0.6"/>
<text x="184.09" y="211.40" font-size="10.26" textLength="15.11" lengthAdjust="spacingAndGlyphs" fill="#111" stroke="#111" stroke-width="0.15">0.2</text>
<line x1="201.80" y1="159.20" x2="204.00" y2="159.20" stroke="#444" stroke-width="0.6"/>
<text x="184.09" y="163.40" font-size="10.26" textLength="15.11" lengthAdjust="spacingAndGlyphs" fill="#111" stroke="#111" stroke-width="0.15">0.4</text>
<line x1="201.80" y1="111.20" x2="204.00" y2="111.20" stroke="#444" stroke-width="0.6"/>
<text x="184.09" y="115.40" font-size="10.26" textLength="15.11" lengthAdjust="spacingAndGlyphs" fill="#111" stroke="#111" stroke-width="0.15">0.6</text>
<line x1="201.80" y1="63.20" x2="204.00" y2="63.20" stroke="#444" stroke-width="0.6"/>
<text x="184.09" y="67.40" font-size="10.26" textLength="15.11" lengthAdjust="spacingAndGlyphs" fill="#111" stroke="#111" stroke-width="0.15">0.8</text>
<line x1="201.80" y1="15.20" x2="204.00" y2="15.20" stroke="#444" stroke-width="0.6"/>
<text x="184.09" y="19.40" font-size="10.26" textLength="15.11" lengthAdjust="spacingAndGlyphs" fill="#111" stroke="#111" stroke-width="0.15">1.0</text>
<line x1="208.60" y1="228.20" x2="208.60" y2="230.40" stroke="#444" stroke-width="0.6"/>
<text x="201.05" y="239.70" font-size="10.26" textLength="15.11" lengthAdjust="spacingAndGlyphs" fill="#111" stroke="#111" stroke-width="0.15">0.0</text>
<line x1="260.10" y1="228.20" x2="260.10" y2="230.40" stroke="#444" stroke-width="0.6"/>
<text x="252.55" y="239.70" font-size="10.26" textLength="15.11" lengthAdjust="spacingAndGlyphs" fill="#111" stroke="#111" stroke-width="0.15">0.5</text>
<line x1="311.60" y1="228.20" x2="311.60" y2="230.40" stroke="#444" stroke-width="0.6"/>
<text x="304.05" y="239.70" font-size="10.26" textLength="15.11" lengthAdjust="spacingAndGlyphs" fill="#111" stroke="#111" stroke-width="0.15">1.0</text>
<line x1="363.10" y1="228.20" x2="363.10" y2="230.40" stroke="#444" stroke-width="0.6"/>
<text x="355.55" y="239.70" font-size="10.26" textLength="15.11" lengthAdjust="spacingAndGlyphs" fill="#111" stroke="#111" stroke-width="0.15">1.5</text>
<line x1="414.60" y1="228.20" x2="414.60" y2="230.40" stroke="#444" stroke-width="0.6"/>
<text x="407.05" y="239.70" font-size="10.26" textLength="15.11" lengthAdjust="spacingAndGlyphs" fill="#111" stroke="#111" stroke-width="0.15">2.0</text>
<text x="195.10" y="7.40" font-size="11.02" textLength="6.28" lengthAdjust="spacingAndGlyphs" fill="#000" stroke="#000" stroke-width="0.1" font-weight="bold">d</text>
<g transform="rotate(-90 179.60 121.30)">
<text x="157.92" y="121.30" font-size="11.45" textLength="6.10" lengthAdjust="spacingAndGlyphs" fill="#111" stroke="#111" stroke-width="0.15">F</text>
<text x="164.02" y="122.90" font-size="8.01" textLength="4.72" lengthAdjust="spacingAndGlyphs" fill="#111" stroke="#111" stroke-width="0.15">1</text>
<text x="168.74" y="121.30" font-size="11.45" textLength="32.54" lengthAdjust="spacingAndGlyphs" fill="#111" stroke="#111" stroke-width="0.15">-score</text>
</g>
<text x="305.20" y="252.00" font-size="11.45" textLength="7.20" lengthAdjust="spacingAndGlyphs" fill="#111" stroke="#111" stroke-width="0.15" font-style="italic">α</text>
<text x="312.60" y="254.20" font-size="8.24" textLength="11.00" lengthAdjust="spacingAndGlyphs" fill="#111" stroke="#111" stroke-width="0.15" font-style="italic">GT</text>
<rect x="208.60" y="192.70" width="94.90" height="31.30" rx="2" fill="#fff" fill-opacity="0.85" stroke="#d6d6d6" stroke-width="0.8"/>
<line x1="211.80" y1="200.50" x2="232.60" y2="200.50" stroke="#e6550d" stroke-width="2"/>
<line x1="211.80" y1="214.60" x2="232.60" y2="214.60" stroke="#e6550d" stroke-width="1.4" stroke-opacity="0.55"/>
<text x="239.60" y="204.10" font-size="10.26" textLength="60.30" lengthAdjust="spacingAndGlyphs" fill="#111" stroke="#111" stroke-width="0.15">Best-in-class</text>
<text x="239.60" y="218.10" font-size="10.26" textLength="56.20" lengthAdjust="spacingAndGlyphs" fill="#111" stroke="#111" stroke-width="0.15">Participants</text>
<rect x="204.00" y="272.50" width="44.22" height="43.03" fill="#d34601"/>
<rect x="248.17" y="272.50" width="44.22" height="43.03" fill="#feeddf"/>
<rect x="292.34" y="272.50" width="44.22" height="43.03" fill="#feecdc"/>
<rect x="336.51" y="272.50" width="44.22" height="43.03" fill="#ffffff"/>
<rect x="380.68" y="272.50" width="44.22" height="43.03" fill="#feebda"/>
<rect x="204.00" y="315.48" width="44.22" height="43.03" fill="#fde6d0"/>
<rect x="248.17" y="315.48" width="44.22" height="43.03" fill="#7f2704"/>
<rect x="292.34" y="315.48" width="44.22" height="43.03" fill="#feeddf"/>
<rect x="336.51" y="315.48" width="44.22" height="43.03" fill="#feeee2"/>
<rect x="380.68" y="315.48" width="44.22" height="43.03" fill="#ffffff"/>
<rect x="204.00" y="358.46" width="44.22" height="43.03" fill="#fde7d2"/>
<rect x="248.17" y="358.46" width="44.22" height="43.03" fill="#ffffff"/>
<rect x="292.34" y="358.46" width="44.22" height="43.03" fill="#9f3303"/>
<rect x="336.51" y="358.46" width="44.22" height="43.03" fill="#ffffff"/>
<rect x="380.68" y="358.46" width="44.22" height="43.03" fill="#fddcbc"/>
<rect x="204.00" y="401.44" width="44.22" height="43.03" fill="#ffffff"/>
<rect x="248.17" y="401.44" width="44.22" height="43.03" fill="#ffffff"/>
<rect x="292.34" y="401.44" width="44.22" height="43.03" fill="#ffffff"/>
<rect x="336.51" y="401.44" width="44.22" height="43.03" fill="#7f2704"/>
<rect x="380.68" y="401.44" width="44.22" height="43.03" fill="#ffffff"/>
<rect x="204.00" y="444.42" width="44.22" height="43.03" fill="#fde6d0"/>
<rect x="248.17" y="444.42" width="44.22" height="43.03" fill="#ffffff"/>
<rect x="292.34" y="444.42" width="44.22" height="43.03" fill="#feead8"/>
<rect x="336.51" y="444.42" width="44.22" height="43.03" fill="#ffffff"/>
<rect x="380.68" y="444.42" width="44.22" height="43.03" fill="#b13a03"/>
<text x="220.20" y="297.60" font-size="11.02" textLength="12.98" lengthAdjust="spacingAndGlyphs" fill="#fff" stroke="#fff" stroke-width="0.15">74</text>
<text x="267.61" y="297.60" font-size="11.02" textLength="6.49" lengthAdjust="spacingAndGlyphs" fill="#000" stroke="#000" stroke-width="0.15">2</text>
<text x="311.78" y="297.60" font-size="11.02" textLength="6.49" lengthAdjust="spacingAndGlyphs" fill="#000" stroke="#000" stroke-width="0.15">3</text>
<text x="355.95" y="297.60" font-size="11.02" textLength="6.49" lengthAdjust="spacingAndGlyphs" fill="#000" stroke="#000" stroke-width="0.15">0</text>
<text x="400.12" y="297.60" font-size="11.02" textLength="6.49" lengthAdjust="spacingAndGlyphs" fill="#000" stroke="#000" stroke-width="0.15">4</text>
<text x="223.44" y="340.37" font-size="11.02" textLength="6.49" lengthAdjust="spacingAndGlyphs" fill="#000" stroke="#000" stroke-width="0.15">9</text>
<text x="264.37" y="340.37" font-size="11.02" textLength="12.98" lengthAdjust="spacingAndGlyphs" fill="#fff" stroke="#fff" stroke-width="0.15">97</text>
<text x="311.78" y="340.37" font-size="11.02" textLength="6.49" lengthAdjust="spacingAndGlyphs" fill="#000" stroke="#000" stroke-width="0.15">2</text>
<text x="355.95" y="340.37" font-size="11.02" textLength="6.49" lengthAdjust="spacingAndGlyphs" fill="#000" stroke="#000" stroke-width="0.15">1</text>
<text x="400.12" y="340.37" font-size="11.02" textLength="6.49" lengthAdjust="spacingAndGlyphs" fill="#000" stroke="#000" stroke-width="0.15">0</text>
<text x="223.44" y="383.14" font-size="11.02" textLength="6.49" lengthAdjust="spacingAndGlyphs" fill="#000" stroke="#000" stroke-width="0.15">8</text>
<text x="267.61" y="383.14" font-size="11.02" textLength="6.49" lengthAdjust="spacingAndGlyphs" fill="#000" stroke="#000" stroke-width="0.15">1</text>
<text x="308.54" y="383.14" font-size="11.02" textLength="12.98" lengthAdjust="spacingAndGlyphs" fill="#fff" stroke="#fff" stroke-width="0.15">87</text>
<text x="355.95" y="383.14" font-size="11.02" textLength="6.49" lengthAdjust="spacingAndGlyphs" fill="#000" stroke="#000" stroke-width="0.15">1</text>
<text x="396.88" y="383.14" font-size="11.02" textLength="12.98" lengthAdjust="spacingAndGlyphs" fill="#000" stroke="#000" stroke-width="0.15">13</text>
<text x="223.44" y="425.91" font-size="11.02" textLength="6.49" lengthAdjust="spacingAndGlyphs" fill="#000" stroke="#000" stroke-width="0.15">0</text>
<text x="267.61" y="425.91" font-size="11.02" textLength="6.49" lengthAdjust="spacingAndGlyphs" fill="#000" stroke="#000" stroke-width="0.15">0</text>
<text x="311.78" y="425.91" font-size="11.02" textLength="6.49" lengthAdjust="spacingAndGlyphs" fill="#000" stroke="#000" stroke-width="0.15">1</text>
<text x="352.71" y="425.91" font-size="11.02" textLength="12.98" lengthAdjust="spacingAndGlyphs" fill="#fff" stroke="#fff" stroke-width="0.15">97</text>
<text x="400.12" y="425.91" font-size="11.02" textLength="6.49" lengthAdjust="spacingAndGlyphs" fill="#000" stroke="#000" stroke-width="0.15">0</text>
<text x="223.44" y="468.68" font-size="11.02" textLength="6.49" lengthAdjust="spacingAndGlyphs" fill="#000" stroke="#000" stroke-width="0.15">9</text>
<text x="267.61" y="468.68" font-size="11.02" textLength="6.49" lengthAdjust="spacingAndGlyphs" fill="#000" stroke="#000" stroke-width="0.15">0</text>
<text x="311.78" y="468.68" font-size="11.02" textLength="6.49" lengthAdjust="spacingAndGlyphs" fill="#000" stroke="#000" stroke-width="0.15">7</text>
<text x="355.95" y="468.68" font-size="11.02" textLength="6.49" lengthAdjust="spacingAndGlyphs" fill="#000" stroke="#000" stroke-width="0.15">1</text>
<text x="396.88" y="468.68" font-size="11.02" textLength="12.98" lengthAdjust="spacingAndGlyphs" fill="#fff" stroke="#fff" stroke-width="0.15">82</text>
<rect x="204.00" y="272.50" width="220.85" height="214.90" fill="none" stroke="#333" stroke-width="0.6"/>
<line x1="201.80" y1="293.99" x2="204.00" y2="293.99" stroke="#444" stroke-width="0.6"/>
<text x="176.77" y="297.59" font-size="10.26" textLength="22.53" lengthAdjust="spacingAndGlyphs" fill="#111" stroke="#111" stroke-width="0.15">attm</text>
<line x1="226.09" y1="487.40" x2="226.09" y2="489.60" stroke="#444" stroke-width="0.6"/>
<text x="214.82" y="498.90" font-size="10.26" textLength="22.53" lengthAdjust="spacingAndGlyphs" fill="#111" stroke="#111" stroke-width="0.15">attm</text>
<line x1="201.80" y1="336.97" x2="204.00" y2="336.97" stroke="#444" stroke-width="0.6"/>
<text x="178.68" y="340.57" font-size="10.26" textLength="20.62" lengthAdjust="spacingAndGlyphs" fill="#111" stroke="#111" stroke-width="0.15">ctrw</text>
<line x1="270.25" y1="487.40" x2="270.25" y2="489.60" stroke="#444" stroke-width="0.6"/>
<text x="259.94" y="498.90" font-size="10.26" textLength="20.62" lengthAdjust="spacingAndGlyphs" fill="#111" stroke="#111" stroke-width="0.15">ctrw</text>
<line x1="201.80" y1="379.95" x2="204.00" y2="379.95" stroke="#444" stroke-width="0.6"/>
<text x="180.67" y="383.55" font-size="10.26" textLength="18.63" lengthAdjust="spacingAndGlyphs" fill="#111" stroke="#111" stroke-width="0.15">fbm</text>
<line x1="314.43" y1="487.40" x2="314.43" y2="489.60" stroke="#444" stroke-width="0.6"/>
<text x="305.11" y="498.90" font-size="10.26" textLength="18.63" lengthAdjust="spacingAndGlyphs" fill="#111" stroke="#111" stroke-width="0.15">fbm</text>
<line x1="201.80" y1="422.93" x2="204.00" y2="422.93" stroke="#444" stroke-width="0.6"/>
<text x="188.89" y="426.53" font-size="10.26" textLength="10.41" lengthAdjust="spacingAndGlyphs" fill="#111" stroke="#111" stroke-width="0.15">lw</text>
<line x1="358.60" y1="487.40" x2="358.60" y2="489.60" stroke="#444" stroke-width="0.6"/>
<text x="353.39" y="498.90" font-size="10.26" textLength="10.41" lengthAdjust="spacingAndGlyphs" fill="#111" stroke="#111" stroke-width="0.15">lw</text>
<line x1="201.80" y1="465.91" x2="204.00" y2="465.91" stroke="#444" stroke-width="0.6"/>
<text x="179.07" y="469.51" font-size="10.26" textLength="20.23" lengthAdjust="spacingAndGlyphs" fill="#111" stroke="#111" stroke-width="0.15">sbm</text>
<line x1="402.76" y1="487.40" x2="402.76" y2="489.60" stroke="#444" stroke-width="0.6"/>
<text x="392.65" y="498.90" font-size="10.26" textLength="20.23" lengthAdjust="spacingAndGlyphs" fill="#111" stroke="#111" stroke-width="0.15">sbm</text>
<text x="195.30" y="266.20" font-size="11.02" textLength="5.95" lengthAdjust="spacingAndGlyphs" fill="#000" stroke="#000" stroke-width="0.1" font-weight="bold">e</text>
<text x="129.42" y="379.80" font-size="11.45" textLength="86.55" lengthAdjust="spacingAndGlyphs" fill="#111" stroke="#111" stroke-width="0.15" transform="rotate(-90 172.7 379.8)">Predicted model</text>
<text x="261.40" y="511.40" font-size="11.45" textLength="105.80" lengthAdjust="spacingAndGlyphs" fill="#111" stroke="#111" stroke-width="0.15">Ground-truth model</text>
<polyline points="472.65,119.41 478.91,96.06 485.18,87.17 491.44,69.48 497.70,58.68 503.96,64.92 510.23,57.92 516.49,61.74 522.75,49.99 529.01,46.41 535.27,44.44 541.54,45.56 547.80,44.62 554.06,40.99 560.33,43.69 566.59,34.25 572.85,40.16 579.11,37.78 585.38,38.49 591.64,36.36 597.90,35.33 604.16,37.26 610.42,35.22 616.69,40.82 622.95,35.65 629.21,31.94 635.48,36.00 641.74,35.74 648.00,33.28 654.26,31.02 660.52,34.43 666.79,33.87 673.05,33.84" fill="none" stroke="#e6550d" stroke-width="1" stroke-linejoin="round" stroke-opacity="0.55"/>
<polyline points="472.65,121.61 478.91,100.03 485.18,88.94 491.44,71.93 497.70,61.85 503.96,67.11 510.23,59.64 516.49,63.32 522.75,51.71 529.01,50.78 535.27,49.18 541.54,48.65 547.80,47.27 554.06,44.64 560.33,45.00 566.59,36.73 572.85,42.01 579.11,42.14 585.38,38.22 591.64,39.30 597.90,38.15 604.16,38.35 610.42,38.38 616.69,42.19 622.95,37.50 629.21,37.00 635.48,36.43 641.74,36.12 648.00,34.76 654.26,34.39 660.52,39.34 666.79,36.37 673.05,37.27" fill="none" stroke="#e6550d" stroke-width="1" stroke-linejoin="round" stroke-opacity="0.55"/>
<polyline points="472.65,124.25 478.91,105.94 485.18,90.34 491.44,76.80 497.70,67.35 503.96,68.79 510.23,62.73 516.49,63.17 522.75,55.48 529.01,54.00 535.27,50.16 541.54,51.09 547.80,48.43 554.06,45.77 560.33,44.86 566.59,43.06 572.85,45.97 579.11,43.45 585.38,42.91 591.64,41.14 597.90,41.07 604.16,42.73 610.42,40.72 616.69,46.09 622.95,42.06 629.21,37.80 635.48,40.49 641.74,39.66 648.00,37.79 654.26,35.27 660.52,41.49 666.79,37.86 673.05,38.33" fill="none" stroke="#e6550d" stroke-width="1" stroke-linejoin="round" stroke-opacity="0.55"/>
<polyline points="472.65,128.22 478.91,110.52 485.18,94.05 491.44,81.33 497.70,68.35 503.96,69.45 510.23,66.58 516.49,66.50 522.75,57.63 529.01,52.50 535.27,52.46 541.54,54.88 547.80,53.75 554.06,51.16 560.33,48.65 566.59,43.59 572.85,49.59 579.11,47.17 585.38,46.29 591.64,40.91 597.90,40.98 604.16,45.32 610.42,45.94 616.69,48.48 622.95,43.69 629.21,40.20 635.48,42.18 641.74,44.40 648.00,39.84 654.26,39.14 660.52,40.14 666.79,42.31 673.05,38.60" fill="none" stroke="#e6550d" stroke-width="1" stroke-linejoin="round" stroke-opacity="0.55"/>
<polyline points="472.65,132.35 478.91,117.57 485.18,94.85 491.44,83.91 497.70,75.12 503.96,75.61 510.23,72.39 516.49,68.77 522.75,63.16 529.01,61.52 535.27,59.80 541.54,54.53 547.80,52.77 554.06,51.61 560.33,49.51 566.59,49.16 572.85,48.69 579.11,53.28 585.38,50.43 591.64,45.91 597.90,48.08 604.16,47.95 610.42,50.63 616.69,50.38 622.95,47.28 629.21,44.86 635.48,46.99 641.74,49.72 648.00,47.45 654.26,43.41 660.52,49.43 666.79,50.93 673.05,50.72" fill="none" stroke="#e6550d" stroke-width="1" stroke-linejoin="round" stroke-opacity="0.55"/>
<polyline points="472.65,139.21 478.91,117.00 485.18,102.47 491.44,85.38 497.70,81.05 503.96,76.96 510.23,79.65 516.49,75.54 522.75,72.27 529.01,64.90 535.27,61.85 541.54,63.78 547.80,61.90 554.06,64.17 560.33,57.76 566.59,55.70 572.85,56.79 579.11,59.13 585.38,51.97 591.64,54.24 597.90,53.50 604.16,56.40 610.42,59.84 616.69,56.78 622.95,56.64 629.21,52.94 635.48,54.13 641.74,51.49 648.00,55.69 654.26,56.18 660.52,54.38 666.79,55.05 673.05,60.43" fill="none" stroke="#e6550d" stroke-width="1" stroke-linejoin="round" stroke-opacity="0.55"/>
<polyline points="472.65,128.45 478.91,114.55 485.18,104.47 491.44,92.56 497.70,84.62 503.96,79.57 510.23,72.17 516.49,69.82 522.75,64.52 529.01,59.68 535.27,62.54 541.54,64.97 547.80,63.02 554.06,62.53 560.33,53.72 566.59,53.32 572.85,61.31 579.11,50.68 585.38,63.31 591.64,53.60 597.90,51.77 604.16,47.77 610.42,52.41 616.69,50.10 622.95,47.55 629.21,52.32 635.48,50.56 641.74,55.03 648.00,52.24 654.26,50.15 660.52,51.69 666.79,55.54 673.05,59.04" fill="none" stroke="#e6550d" stroke-width="1" stroke-linejoin="round" stroke-opacity="0.55"/>
<polyline points="472.65,133.31 478.91,130.53 485.18,123.81 491.44,109.50 497.70,98.19 503.96,90.93 510.23,86.99 516.49,69.29 522.75,72.02 529.01,69.44 535.27,68.92 541.54,69.97 547.80,63.02 554.06,61.94 560.33,66.97 566.59,61.21 572.85,71.16 579.11,66.64 585.38,63.81 591.64,69.76 597.90,70.81 604.16,68.43 610.42,65.90 616.69,60.22 622.95,58.05 629.21,54.51 635.48,58.58 641.74,61.79 648.00,59.92 654.26,57.90 660.52,60.49 666.79,62.54 673.05,65.69" fill="none" stroke="#e6550d" stroke-width="1" stroke-linejoin="round" stroke-opacity="0.55"/>
<polyline points="472.65,137.85 478.91,133.50 485.18,128.50 491.44,114.56 497.70,107.26 503.96,99.86 510.23,94.76 516.49,85.95 522.75,67.18 529.01,71.46 535.27,77.72 541.54,80.44 547.80,77.88 554.06,74.16 560.33,67.01 566.59,60.86 572.85,79.19 579.11,79.67 585.38,65.76 591.64,63.99 597.90,70.42 604.16,79.23 610.42,72.01 616.69,68.11 622.95,72.56 629.21,75.28 635.48,69.99 641.74,72.25 648.00,76.17 654.26,72.84 660.52,70.38 666.79,75.37 673.05,79.69" fill="none" stroke="#e6550d" stroke-width="1" stroke-linejoin="round" stroke-opacity="0.55"/>
<polyline points="472.65,142.50 478.91,137.42 485.18,135.01 491.44,125.12 497.70,117.81 503.96,111.64 510.23,105.21 516.49,99.93 522.75,94.76 529.01,89.44 535.27,85.58 541.54,89.99 547.80,83.54 554.06,74.21 560.33,69.71 566.59,72.40 572.85,73.71 579.11,77.72 585.38,70.54 591.64,74.98 597.90,76.65 604.16,71.86 610.42,77.29 616.69,79.51 622.95,74.44 629.21,76.44 635.48,74.86 641.74,79.38 648.00,79.44 654.26,76.66 660.52,75.01 666.79,77.85 673.05,73.34" fill="none" stroke="#e6550d" stroke-width="1" stroke-linejoin="round" stroke-opacity="0.55"/>
<polyline points="472.65,147.17 478.91,134.93 485.18,119.76 491.44,110.20 497.70,114.72 503.96,111.50 510.23,106.19 516.49,103.99 522.75,108.44 529.01,107.38 535.27,110.15 541.54,107.24 547.80,114.32 554.06,103.41 560.33,99.94 566.59,87.56 572.85,104.70 579.11,101.40 585.38,100.17 591.64,96.97 597.90,111.42 604.16,105.64 610.42,102.07 616.69,107.56 622.95,97.89 629.21,93.45 635.48,98.36 641.74,101.37 648.00,109.86 654.26,104.20 660.52,97.68 666.79,102.36 673.05,94.14" fill="none" stroke="#e6550d" stroke-width="1" stroke-linejoin="round" stroke-opacity="0.55"/>
<polyline points="472.65,170.50 478.91,149.80 485.18,135.48 491.44,118.04 497.70,122.03 503.96,111.80 510.23,109.10 516.49,112.40 522.75,110.03 529.01,108.23 535.27,106.39 541.54,110.62 547.80,117.63 554.06,109.85 560.33,106.41 566.59,95.34 572.85,109.83 579.11,106.18 585.38,103.64 591.64,99.63 597.90,105.46 604.16,111.82 610.42,107.67 616.69,104.03 622.95,112.50 629.21,105.58 635.48,102.09 641.74,108.38 648.00,112.72 654.26,108.06 660.52,104.37 666.79,99.43 673.05,108.08" fill="none" stroke="#e6550d" stroke-width="1" stroke-linejoin="round" stroke-opacity="0.55"/>
<polyline points="472.65,178.81 478.91,152.33 485.18,135.76 491.44,121.47 497.70,119.26 503.96,127.92 510.23,130.14 516.49,125.12 522.75,121.97 529.01,127.52 535.27,136.23 541.54,132.90 547.80,140.10 554.06,128.49 560.33,120.51 566.59,114.93 572.85,122.51 579.11,125.38 585.38,133.33 591.64,127.77 597.90,125.74 604.16,123.63 610.42,117.46 616.69,119.59 622.95,126.92 629.21,123.05 635.48,119.26 641.74,131.10 648.00,127.93 654.26,129.79 660.52,133.21 666.79,116.91 673.05,125.96" fill="none" stroke="#e6550d" stroke-width="1" stroke-linejoin="round" stroke-opacity="0.55"/>
<polyline points="472.65,215.55 478.91,155.30 485.18,163.53 491.44,144.97 497.70,132.45 503.96,131.32 510.23,137.80 516.49,125.47 522.75,123.64 529.01,131.00 535.27,139.92 541.54,131.60 547.80,139.38 554.06,129.67 560.33,119.56 566.59,117.93 572.85,126.63 579.11,130.39 585.38,133.52 591.64,127.99 597.90,130.36 604.16,125.97 610.42,121.51 616.69,129.79 622.95,127.87 629.21,124.51 635.48,130.08 641.74,131.93 648.00,134.16 654.26,127.49 660.52,132.18 666.79,116.40 673.05,139.57" fill="none" stroke="#e6550d" stroke-width="1" stroke-linejoin="round" stroke-opacity="0.55"/>
<polyline points="472.65,117.00 478.91,89.10 485.18,83.70 491.44,65.50 497.70,55.20 503.96,62.30 510.23,53.10 516.49,60.10 522.75,46.20 529.01,44.00 535.27,42.50 541.54,43.00 547.80,41.50 554.06,38.70 560.33,40.80 566.59,30.70 572.85,38.50 579.11,35.80 585.38,34.30 591.64,32.80 597.90,31.10 604.16,34.30 610.42,32.80 616.69,39.30 622.95,32.80 629.21,30.10 635.48,32.80 641.74,34.30 648.00,32.20 654.26,27.30 660.52,33.70 666.79,30.10 673.05,31.60" fill="none" stroke="#e6550d" stroke-width="2" stroke-linejoin="round"/>
<rect x="462.50" y="13.50" width="220.90" height="214.80" fill="none" stroke="#333" stroke-width="0.75"/>
<line x1="460.30" y1="207.40" x2="462.50" y2="207.40" stroke="#444" stroke-width="0.6"/>
<text x="443.09" y="211.60" font-size="10.26" textLength="15.11" lengthAdjust="spacingAndGlyphs" fill="#111" stroke="#111" stroke-width="0.15">0.2</text>
<line x1="460.30" y1="159.40" x2="462.50" y2="159.40" stroke="#444" stroke-width="0.6"/>
<text x="443.09" y="163.60" font-size="10.26" textLength="15.11" lengthAdjust="spacingAndGlyphs" fill="#111" stroke="#111" stroke-width="0.15">0.4</text>
<line x1="460.30" y1="111.40" x2="462.50" y2="111.40" stroke="#444" stroke-width="0.6"/>
<text x="443.09" y="115.60" font-size="10.26" textLength="15.11" lengthAdjust="spacingAndGlyphs" fill="#111" stroke="#111" stroke-width="0.15">0.6</text>
<line x1="460.30" y1="63.40" x2="462.50" y2="63.40" stroke="#444" stroke-width="0.6"/>
<text x="443.09" y="67.60" font-size="10.26" textLength="15.11" lengthAdjust="spacingAndGlyphs" fill="#111" stroke="#111" stroke-width="0.15">0.8</text>
<line x1="460.30" y1="15.40" x2="462.50" y2="15.40" stroke="#444" stroke-width="0.6"/>
<text x="443.09" y="19.60" font-size="10.26" textLength="15.11" lengthAdjust="spacingAndGlyphs" fill="#111" stroke="#111" stroke-width="0.15">1.0</text>
<line x1="464.30" y1="228.30" x2="464.30" y2="230.50" stroke="#444" stroke-width="0.6"/>
<text x="461.28" y="239.70" font-size="10.26" textLength="6.04" lengthAdjust="spacingAndGlyphs" fill="#111" stroke="#111" stroke-width="0.15">0</text>
<line x1="506.05" y1="228.30" x2="506.05" y2="230.50" stroke="#444" stroke-width="0.6"/>
<text x="496.98" y="239.70" font-size="10.26" textLength="18.13" lengthAdjust="spacingAndGlyphs" fill="#111" stroke="#111" stroke-width="0.15">200</text>
<line x1="547.80" y1="228.30" x2="547.80" y2="230.50" stroke="#444" stroke-width="0.6"/>
<text x="538.73" y="239.70" font-size="10.26" textLength="18.13" lengthAdjust="spacingAndGlyphs" fill="#111" stroke="#111" stroke-width="0.15">400</text>
<line x1="589.55" y1="228.30" x2="589.55" y2="230.50" stroke="#444" stroke-width="0.6"/>
<text x="580.48" y="239.70" font-size="10.26" textLength="18.13" lengthAdjust="spacingAndGlyphs" fill="#111" stroke="#111" stroke-width="0.15">600</text>
<line x1="631.30" y1="228.30" x2="631.30" y2="230.50" stroke="#444" stroke-width="0.6"/>
<text x="622.23" y="239.70" font-size="10.26" textLength="18.13" lengthAdjust="spacingAndGlyphs" fill="#111" stroke="#111" stroke-width="0.15">800</text>
<line x1="673.05" y1="228.30" x2="673.05" y2="230.50" stroke="#444" stroke-width="0.6"/>
<text x="660.96" y="239.70" font-size="10.26" textLength="24.18" lengthAdjust="spacingAndGlyphs" fill="#111" stroke="#111" stroke-width="0.15">1000</text>
<text x="456.00" y="7.40" font-size="11.02" textLength="3.82" lengthAdjust="spacingAndGlyphs" fill="#000" stroke="#000" stroke-width="0.1" font-weight="bold">f</text>
<g transform="rotate(-90 438.40 121.40)">
<text x="416.72" y="121.40" font-size="11.45" textLength="6.10" lengthAdjust="spacingAndGlyphs" fill="#111" stroke="#111" stroke-width="0.15">F</text>
<text x="422.82" y="123.00" font-size="8.01" textLength="4.72" lengthAdjust="spacingAndGlyphs" fill="#111" stroke="#111" stroke-width="0.15">1</text>
<text x="427.54" y="121.40" font-size="11.45" textLength="32.54" lengthAdjust="spacingAndGlyphs" fill="#111" stroke="#111" stroke-width="0.15">-score</text>
</g>
<text x="569.60" y="252.00" font-size="11.45" textLength="6.00" lengthAdjust="spacingAndGlyphs" fill="#111" stroke="#111" stroke-width="0.15" font-style="italic">L</text>
<polyline points="472.20,321.50 532.83,302.50 673.60,300.20" fill="none" stroke="#e6550d" stroke-width="1" stroke-linejoin="round" stroke-opacity="0.55"/>
<circle cx="472.20" cy="321.50" r="3.1" fill="#e6550d" fill-opacity="0.55"/>
<circle cx="532.83" cy="302.50" r="3.1" fill="#e6550d" fill-opacity="0.55"/>
<circle cx="673.60" cy="300.20" r="3.1" fill="#e6550d" fill-opacity="0.55"/>
<polyline points="472.20,323.00 532.83,304.50 673.60,302.20" fill="none" stroke="#e6550d" stroke-width="1" stroke-linejoin="round" stroke-opacity="0.55"/>
<circle cx="472.20" cy="323.00" r="3.1" fill="#e6550d" fill-opacity="0.55"/>
<circle cx="532.83" cy="304.50" r="3.1" fill="#e6550d" fill-opacity="0.55"/>
<circle cx="673.60" cy="302.20" r="3.1" fill="#e6550d" fill-opacity="0.55"/>
<polyline points="472.20,324.50 532.83,306.50 673.60,304.50" fill="none" stroke="#e6550d" stroke-width="1" stroke-linejoin="round" stroke-opacity="0.55"/>
<circle cx="472.20" cy="324.50" r="3.1" fill="#e6550d" fill-opacity="0.55"/>
<circle cx="532.83" cy="306.50" r="3.1" fill="#e6550d" fill-opacity="0.55"/>
<circle cx="673.60" cy="304.50" r="3.1" fill="#e6550d" fill-opacity="0.55"/>
<polyline points="472.20,326.00 532.83,309.00 673.60,306.80" fill="none" stroke="#e6550d" stroke-width="1" stroke-linejoin="round" stroke-opacity="0.55"/>
<circle cx="472.20" cy="326.00" r="3.1" fill="#e6550d" fill-opacity="0.55"/>
<circle cx="532.83" cy="309.00" r="3.1" fill="#e6550d" fill-opacity="0.55"/>
<circle cx="673.60" cy="306.80" r="3.1" fill="#e6550d" fill-opacity="0.55"/>
<polyline points="472.20,328.00 532.83,311.50 673.60,309.50" fill="none" stroke="#e6550d" stroke-width="1" stroke-linejoin="round" stroke-opacity="0.55"/>
<circle cx="472.20" cy="328.00" r="3.1" fill="#e6550d" fill-opacity="0.55"/>
<circle cx="532.83" cy="311.50" r="3.1" fill="#e6550d" fill-opacity="0.55"/>
<circle cx="673.60" cy="309.50" r="3.1" fill="#e6550d" fill-opacity="0.55"/>
<polyline points="472.20,338.60 532.83,314.00 673.60,312.00" fill="none" stroke="#e6550d" stroke-width="1" stroke-linejoin="round" stroke-opacity="0.55"/>
<circle cx="472.20" cy="338.60" r="3.1" fill="#e6550d" fill-opacity="0.55"/>
<circle cx="532.83" cy="314.00" r="3.1" fill="#e6550d" fill-opacity="0.55"/>
<circle cx="673.60" cy="312.00" r="3.1" fill="#e6550d" fill-opacity="0.55"/>
<polyline points="472.20,344.20 532.83,318.40 673.60,314.20" fill="none" stroke="#e6550d" stroke-width="1" stroke-linejoin="round" stroke-opacity="0.55"/>
<circle cx="472.20" cy="344.20" r="3.1" fill="#e6550d" fill-opacity="0.55"/>
<circle cx="532.83" cy="318.40" r="3.1" fill="#e6550d" fill-opacity="0.55"/>
<circle cx="673.60" cy="314.20" r="3.1" fill="#e6550d" fill-opacity="0.55"/>
<polyline points="472.20,349.40 532.83,327.60 673.60,326.90" fill="none" stroke="#e6550d" stroke-width="1" stroke-linejoin="round" stroke-opacity="0.55"/>
<circle cx="472.20" cy="349.40" r="3.1" fill="#e6550d" fill-opacity="0.55"/>
<circle cx="532.83" cy="327.60" r="3.1" fill="#e6550d" fill-opacity="0.55"/>
<circle cx="673.60" cy="326.90" r="3.1" fill="#e6550d" fill-opacity="0.55"/>
<polyline points="472.20,353.60 532.83,340.90 673.60,338.00" fill="none" stroke="#e6550d" stroke-width="1" stroke-linejoin="round" stroke-opacity="0.55"/>
<circle cx="472.20" cy="353.60" r="3.1" fill="#e6550d" fill-opacity="0.55"/>
<circle cx="532.83" cy="340.90" r="3.1" fill="#e6550d" fill-opacity="0.55"/>
<circle cx="673.60" cy="338.00" r="3.1" fill="#e6550d" fill-opacity="0.55"/>
<polyline points="472.20,379.70 532.83,365.70 673.60,365.30" fill="none" stroke="#e6550d" stroke-width="1" stroke-linejoin="round" stroke-opacity="0.55"/>
<circle cx="472.20" cy="379.70" r="3.1" fill="#e6550d" fill-opacity="0.55"/>
<circle cx="532.83" cy="365.70" r="3.1" fill="#e6550d" fill-opacity="0.55"/>
<circle cx="673.60" cy="365.30" r="3.1" fill="#e6550d" fill-opacity="0.55"/>
<polyline points="472.20,393.00 532.83,359.20 673.60,350.70" fill="none" stroke="#e6550d" stroke-width="1" stroke-linejoin="round" stroke-opacity="0.55"/>
<circle cx="472.20" cy="393.00" r="3.1" fill="#e6550d" fill-opacity="0.55"/>
<circle cx="532.83" cy="359.20" r="3.1" fill="#e6550d" fill-opacity="0.55"/>
<circle cx="673.60" cy="350.70" r="3.1" fill="#e6550d" fill-opacity="0.55"/>
<polyline points="472.20,414.80 532.83,372.80 673.60,366.50" fill="none" stroke="#e6550d" stroke-width="1" stroke-linejoin="round" stroke-opacity="0.55"/>
<circle cx="472.20" cy="414.80" r="3.1" fill="#e6550d" fill-opacity="0.55"/>
<circle cx="532.83" cy="372.80" r="3.1" fill="#e6550d" fill-opacity="0.55"/>
<circle cx="673.60" cy="366.50" r="3.1" fill="#e6550d" fill-opacity="0.55"/>
<polyline points="472.20,429.00 532.83,385.20 673.60,368.00" fill="none" stroke="#e6550d" stroke-width="1" stroke-linejoin="round" stroke-opacity="0.55"/>
<circle cx="472.20" cy="429.00" r="3.1" fill="#e6550d" fill-opacity="0.55"/>
<circle cx="532.83" cy="385.20" r="3.1" fill="#e6550d" fill-opacity="0.55"/>
<circle cx="673.60" cy="368.00" r="3.1" fill="#e6550d" fill-opacity="0.55"/>
<polyline points="472.20,318.10 532.83,300.50 673.60,298.20" fill="none" stroke="#e6550d" stroke-width="2" stroke-linejoin="round"/>
<circle cx="472.20" cy="318.10" r="3.1" fill="#e6550d" stroke="#111" stroke-width="0.9"/>
<circle cx="532.83" cy="300.50" r="3.1" fill="#e6550d" stroke="#111" stroke-width="0.9"/>
<circle cx="673.60" cy="298.20" r="3.1" fill="#e6550d" stroke="#111" stroke-width="0.9"/>
<rect x="462.50" y="272.30" width="221.00" height="215.10" fill="none" stroke="#333" stroke-width="0.75"/>
<line x1="460.30" y1="466.20" x2="462.50" y2="466.20" stroke="#444" stroke-width="0.6"/>
<text x="443.09" y="470.40" font-size="10.26" textLength="15.11" lengthAdjust="spacingAndGlyphs" fill="#111" stroke="#111" stroke-width="0.15">0.2</text>
<line x1="460.30" y1="418.40" x2="462.50" y2="418.40" stroke="#444" stroke-width="0.6"/>
<text x="443.09" y="422.60" font-size="10.26" textLength="15.11" lengthAdjust="spacingAndGlyphs" fill="#111" stroke="#111" stroke-width="0.15">0.4</text>
<line x1="460.30" y1="370.60" x2="462.50" y2="370.60" stroke="#444" stroke-width="0.6"/>
<text x="443.09" y="374.80" font-size="10.26" textLength="15.11" lengthAdjust="spacingAndGlyphs" fill="#111" stroke="#111" stroke-width="0.15">0.6</text>
<line x1="460.30" y1="322.80" x2="462.50" y2="322.80" stroke="#444" stroke-width="0.6"/>
<text x="443.09" y="327.00" font-size="10.26" textLength="15.11" lengthAdjust="spacingAndGlyphs" fill="#111" stroke="#111" stroke-width="0.15">0.8</text>
<line x1="460.30" y1="275.00" x2="462.50" y2="275.00" stroke="#444" stroke-width="0.6"/>
<text x="443.09" y="279.20" font-size="10.26" textLength="15.11" lengthAdjust="spacingAndGlyphs" fill="#111" stroke="#111" stroke-width="0.15">1.0</text>
<line x1="472.20" y1="487.40" x2="472.20" y2="489.60" stroke="#444" stroke-width="0.6"/>
<text x="469.18" y="499.40" font-size="10.26" textLength="6.04" lengthAdjust="spacingAndGlyphs" fill="#111" stroke="#111" stroke-width="0.15">1</text>
<line x1="532.83" y1="487.40" x2="532.83" y2="489.60" stroke="#444" stroke-width="0.6"/>
<text x="529.81" y="499.40" font-size="10.26" textLength="6.04" lengthAdjust="spacingAndGlyphs" fill="#111" stroke="#111" stroke-width="0.15">2</text>
<line x1="673.60" y1="487.40" x2="673.60" y2="489.60" stroke="#444" stroke-width="0.6"/>
<text x="667.56" y="499.40" font-size="10.26" textLength="12.09" lengthAdjust="spacingAndGlyphs" fill="#111" stroke="#111" stroke-width="0.15">10</text>
<line x1="568.29" y1="487.40" x2="568.29" y2="488.70" stroke="#444" stroke-width="0.5"/>
<line x1="593.45" y1="487.40" x2="593.45" y2="488.70" stroke="#444" stroke-width="0.5"/>
<line x1="612.97" y1="487.40" x2="612.97" y2="488.70" stroke="#444" stroke-width="0.5"/>
<line x1="628.92" y1="487.40" x2="628.92" y2="488.70" stroke="#444" stroke-width="0.5"/>
<line x1="642.40" y1="487.40" x2="642.40" y2="488.70" stroke="#444" stroke-width="0.5"/>
<line x1="654.08" y1="487.40" x2="654.08" y2="488.70" stroke="#444" stroke-width="0.5"/>
<line x1="664.38" y1="487.40" x2="664.38" y2="488.70" stroke="#444" stroke-width="0.5"/>
<text x="453.20" y="265.80" font-size="11.02" textLength="6.28" lengthAdjust="spacingAndGlyphs" fill="#000" stroke="#000" stroke-width="0.1" font-weight="bold">g</text>
<g transform="rotate(-90 438.60 380.00)">
<text x="416.92" y="380.00" font-size="11.45" textLength="6.10" lengthAdjust="spacingAndGlyphs" fill="#111" stroke="#111" stroke-width="0.15">F</text>
<text x="423.02" y="381.60" font-size="8.01" textLength="4.72" lengthAdjust="spacingAndGlyphs" fill="#111" stroke="#111" stroke-width="0.15">1</text>
<text x="427.74" y="380.00" font-size="11.45" textLength="32.54" lengthAdjust="spacingAndGlyphs" fill="#111" stroke="#111" stroke-width="0.15">-score</text>
</g>
<text x="561.99" y="511.40" font-size="11.45" textLength="22.02" lengthAdjust="spacingAndGlyphs" fill="#111" stroke="#111" stroke-width="0.15">SNR</text>
<rect x="467.00" y="451.80" width="95.20" height="31.50" rx="2" fill="#fff" fill-opacity="0.85" stroke="#d6d6d6" stroke-width="0.8"/>
<line x1="470.20" y1="459.60" x2="491.00" y2="459.60" stroke="#e6550d" stroke-width="2"/>
<circle cx="480.60" cy="459.60" r="3" fill="#e6550d" stroke="#111" stroke-width="0.9"/>
<line x1="470.20" y1="473.70" x2="491.00" y2="473.70" stroke="#e6550d" stroke-width="1.4" stroke-opacity="0.55"/>
<text x="498.40" y="463.20" font-size="10.26" textLength="60.30" lengthAdjust="spacingAndGlyphs" fill="#111" stroke="#111" stroke-width="0.15">Best-in-class</text>
<text x="498.40" y="477.20" font-size="10.26" textLength="56.20" lengthAdjust="spacingAndGlyphs" fill="#111" stroke="#111" stroke-width="0.15">Participants</text>
</g>
</svg>
</body></html>
